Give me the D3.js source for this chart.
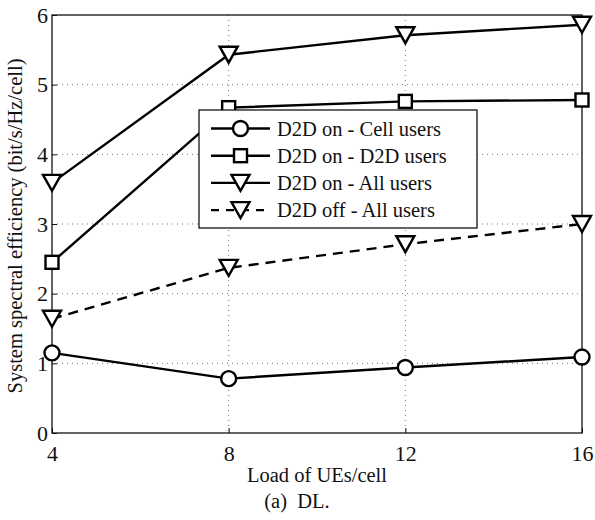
<!DOCTYPE html>
<html><head><meta charset="utf-8">
<script src="https://cdn.jsdelivr.net/npm/d3@7"></script>
<style>body{margin:0;background:#fff}svg{display:block}text{font-family:"Liberation Serif","Times New Roman",serif;fill:#111}</style>
</head><body><svg id="c" width="595" height="520"></svg>
<script>
const loads = [4, 8, 12, 16];
const cellUsers = [1.15, 0.78, 0.94, 1.09];
const d2dUsers = [2.45, 4.67, 4.76, 4.78];
const allUsersOn = [3.59, 5.43, 5.71, 5.86];
const allUsersOff = [1.64, 2.37, 2.71, 3.00];
const seriesNames = ["D2D on - Cell users", "D2D on - D2D users", "D2D on - All users", "D2D off - All users"];
const xTicks = [4, 8, 12, 16];
const yTicks = [0, 1, 2, 3, 4, 5, 6];

const series = [
  {name: seriesNames[0], values: cellUsers, marker: "circle", dash: null},
  {name: seriesNames[1], values: d2dUsers, marker: "square", dash: null},
  {name: seriesNames[2], values: allUsersOn, marker: "tri", dash: null},
  {name: seriesNames[3], values: allUsersOff, marker: "tri", dash: "10,7"}
];

const svg = d3.select("#c");
const L = 52, R = 582, T = 15, B = 433;
const x = d3.scaleLinear().domain([4, 16]).range([L, R]);
const y = d3.scaleLinear().domain([0, 6]).range([B, T]);

// grid
const g = svg.append("g");
g.selectAll(".gy").data(yTicks.filter(d => d > 0 && d < 6)).join("line")
  .attr("x1", L).attr("x2", R).attr("y1", d => y(d)).attr("y2", d => y(d))
  .attr("stroke", "#777").attr("stroke-width", 1).attr("stroke-dasharray", "1,4");
g.selectAll(".gx").data(xTicks.filter(d => d > 4 && d < 16)).join("line")
  .attr("y1", T).attr("y2", B).attr("x1", d => x(d)).attr("x2", d => x(d))
  .attr("stroke", "#777").attr("stroke-width", 1).attr("stroke-dasharray", "1,4");

// axes
const xAxis = svg.append("g").attr("transform", `translate(0,${B})`)
  .call(d3.axisBottom(x).tickValues(xTicks).tickSize(-5).tickPadding(13).tickFormat(d3.format("d")));
const yAxis = svg.append("g").attr("transform", `translate(${L},0)`)
  .call(d3.axisLeft(y).tickValues(yTicks).tickSize(-5).tickPadding(4).tickFormat(d3.format("d")));
[xAxis, yAxis].forEach(a => {
  a.select(".domain").remove();
  a.selectAll("line").attr("stroke", "#111");
  a.selectAll("text").style("font-size", "22px").style("font-family", "'Liberation Serif', serif").attr("fill", "#111");
});
xAxis.selectAll("text").attr("dy", "0.66em");
// frame
svg.append("rect").attr("x", L).attr("y", T).attr("width", R - L).attr("height", B - T)
  .attr("fill", "none").attr("stroke", "#111").attr("stroke-width", 1.3);

function drawMarker(sel, type) {
  if (type === "circle") sel.append("circle").attr("r", 7.5);
  else if (type === "square") sel.append("rect").attr("x", -6.5).attr("y", -6.5).attr("width", 13).attr("height", 13);
  else sel.append("path").attr("d", "M-9,-8 L9,-8 L0,8 Z");
  sel.selectAll("circle,rect,path").attr("fill", "#fff").attr("stroke", "#000").attr("stroke-width", 2.4);
}

const line = d3.line().x((d, i) => x(loads[i])).y(d => y(d));
series.forEach(s => {
  svg.append("path").attr("d", line(s.values)).attr("fill", "none").attr("stroke", "#000")
    .attr("stroke-width", 2.4).attr("stroke-dasharray", s.dash);
});
series.forEach(s => {
  s.values.forEach((v, i) => {
    const m = svg.append("g").attr("transform", `translate(${x(loads[i])},${y(v)})`);
    drawMarker(m, s.marker);
  });
});

// legend
const lg = svg.append("g");
lg.append("rect").attr("x", 199).attr("y", 110).attr("width", 278).attr("height", 118)
  .attr("fill", "#fff").attr("stroke", "#000").attr("stroke-width", 1.2);
series.forEach((s, i) => {
  const cy = 128.5 + i * 27.2;
  lg.append("line").attr("x1", 211).attr("x2", 270).attr("y1", cy).attr("y2", cy)
    .attr("stroke", "#000").attr("stroke-width", 2.4).attr("stroke-dasharray", s.dash ? "8,7" : null);
  const m = lg.append("g").attr("transform", `translate(240.5,${cy})`);
  drawMarker(m, s.marker);
  lg.append("text").attr("x", 277).attr("y", cy).attr("dy", "0.35em").style("font-size", "20.5px").text(s.name);
});

// titles
svg.append("text").attr("x", 317).attr("y", 475).attr("dy", "0.35em").attr("text-anchor", "middle")
  .style("font-size", "20.5px").text("Load of UEs/cell");
svg.append("text").attr("x", 297).attr("y", 501).attr("dy", "0.35em").attr("text-anchor", "middle")
  .style("font-size", "20.5px").attr("xml:space", "preserve").style("white-space", "pre").text("(a)  DL.");
svg.append("text").attr("transform", `translate(15,${226}) rotate(-90)`).attr("dy", "0.35em")
  .attr("text-anchor", "middle").style("font-size", "20.5px").text("System spectral efficiency (bit/s/Hz/cell)");
</script></body></html>
